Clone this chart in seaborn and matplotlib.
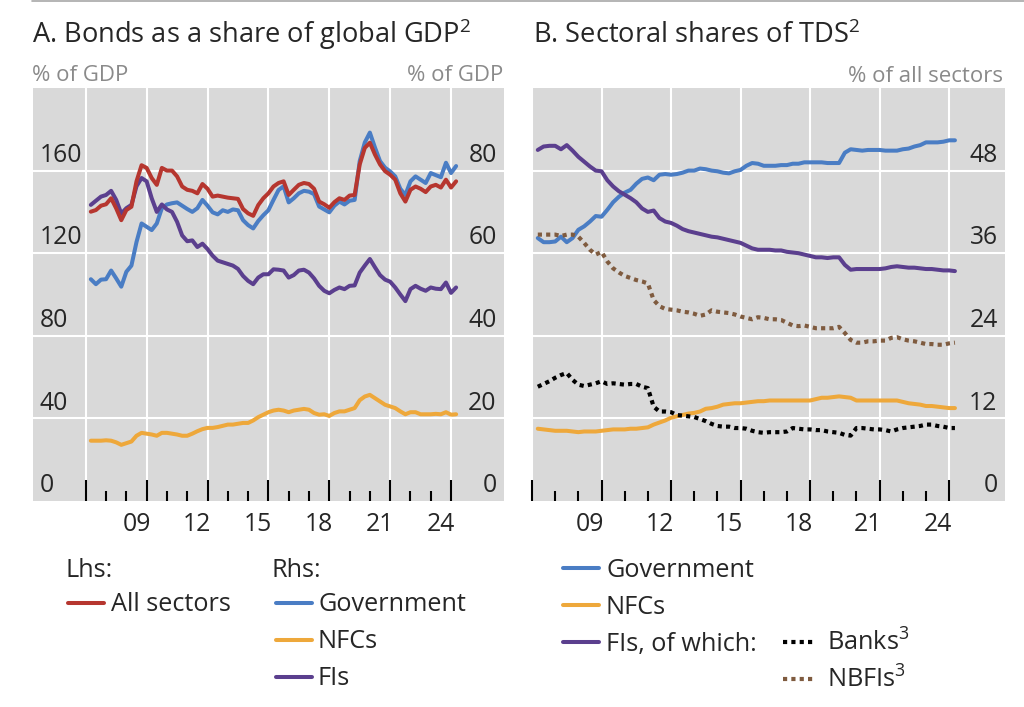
import matplotlib
matplotlib.use("Agg")
import matplotlib.pyplot as plt
from matplotlib.lines import Line2D
import pandas as pd
import seaborn as sns

# quarterly observations, 2007Q1 to 2025Q1, plotted at quarter end
quarters = pd.period_range("2007Q1", "2025Q1", freq="Q")
dates = quarters.year + quarters.quarter / 4

# Panel A: bonds as % of global GDP
all_sectors = [140.1, 140.9, 143, 143.7, 146.6, 141.7, 136, 140.9, 142.5, 154.8,
               162.6, 161.3, 156.4, 153.1, 161.3, 160, 160, 157.2, 152.3, 150.7,
               150.2, 149, 153.5, 151.2, 147.4, 147.9, 147.4, 146.9, 146.6, 146.3,
               141.4, 139.3, 138.1, 143.3, 146.6, 149, 152.3, 154, 154.8, 148.2,
               150.7, 153.1, 154, 153.5, 151.2, 145, 143.7, 142, 144.7, 146.6,
               145.8, 147.9, 148.2, 163, 171, 173.5, 167.8, 163, 159.7, 158,
               155.6, 149, 145, 150.7, 152.3, 151.2, 149.6, 152.3, 153.1, 151.8,
               155.6, 151.8, 154.8]
gov_a = [53.7, 52.5, 53.6, 53.7, 55.8, 53.9, 51.9, 55.5, 57, 62.7,
         67.2, 66.4, 65.6, 67.2, 70.9, 71.8, 72.1, 72.3, 71.5, 70.7,
         70, 70.9, 72.9, 71.5, 69.9, 69.4, 70.4, 70, 70.6, 70.4,
         68, 66.8, 66, 67.8, 69.2, 70.4, 72.9, 75.3, 76.2, 72.3,
         73.3, 74.5, 75.1, 74.9, 74.3, 71.3, 70.6, 69.9, 71.5, 72.5,
         71.8, 72.7, 72.9, 82.3, 86.8, 89.2, 85.6, 82.3, 80.7, 79.8,
         78.6, 75.6, 74.1, 77.4, 78.6, 77.8, 77, 79.4, 78.9, 78.4,
         81.9, 79.4, 81.1]
nfc_a = [14.6, 14.6, 14.6, 14.7, 14.6, 14.2, 13.6, 14, 14.4, 15.8,
         16.5, 16.3, 16.1, 15.8, 16.5, 16.5, 16.3, 16.1, 15.8, 15.8,
         16.3, 16.9, 17.4, 17.7, 17.7, 17.9, 18.2, 18.5, 18.5, 18.7,
         18.9, 18.9, 19.5, 20.3, 20.9, 21.5, 21.9, 22.1, 21.9, 21.5,
         21.9, 22.1, 22.3, 22.1, 21.3, 20.9, 21, 20.6, 21.3, 21.7,
         21.7, 22.1, 22.5, 24.4, 25.3, 25.7, 24.9, 24.1, 23.3, 22.9,
         22.5, 21.7, 21, 21.5, 21.5, 21, 21, 21, 21.1, 21,
         21.5, 20.9, 21]
fi_a = [71.7, 72.7, 73.7, 74.1, 75.1, 72.9, 69.6, 70.9, 71.7, 76.2,
        78.2, 77.4, 73.3, 70, 71.8, 70.6, 70, 67.6, 64.3, 62.9,
        63.1, 61.5, 62.3, 61, 59.4, 58.2, 57.8, 57.4, 57, 56.2,
        54.5, 53.3, 52.5, 54.1, 54.9, 54.9, 56.1, 56, 55.8, 54.1,
        54.7, 55.8, 56, 55.3, 53.9, 52.1, 50.9, 50.3, 51.1, 51.7,
        51.3, 52.1, 52.2, 55.3, 57, 58.6, 56.6, 54.7, 53.6, 53.1,
        51.7, 50, 48.4, 51.3, 52.1, 51.4, 50.9, 51.7, 51.4, 51.3,
        52.9, 50.4, 51.7]

# Panel B: sectoral shares of total debt securities, % of all sectors
gov_b = [38.2, 37.6, 37.6, 37.7, 38.4, 37.6, 38.2, 39.4, 39.9, 40.6,
         41.4, 41.3, 42.3, 43.4, 44.2, 44.8, 45.2, 46.1, 46.8, 47,
         46.6, 47.4, 47.5, 47.4, 47.5, 47.7, 48, 48, 48.3, 48.2,
         48, 47.9, 47.7, 47.6, 47.9, 48.1, 48.7, 49.1, 49, 48.7,
         48.7, 48.7, 48.8, 48.8, 49, 49, 49.2, 49.2, 49.2, 49.2,
         49.1, 49.1, 49.1, 50.6, 51.1, 51, 50.9, 51, 51, 51,
         50.9, 50.9, 50.9, 51.1, 51.2, 51.5, 51.7, 52.1, 52.1, 52.1,
         52.2, 52.4, 52.4]
nfc_b = [10.5, 10.4, 10.3, 10.2, 10.2, 10.2, 10.1, 10, 10.1, 10.1,
         10.1, 10.2, 10.3, 10.4, 10.4, 10.4, 10.5, 10.5, 10.6, 10.7,
         11.1, 11.4, 11.7, 12.1, 12.3, 12.5, 12.7, 12.8, 13, 13.4,
         13.5, 13.7, 14, 14.1, 14.2, 14.2, 14.3, 14.4, 14.5, 14.5,
         14.6, 14.6, 14.6, 14.6, 14.6, 14.6, 14.6, 14.6, 14.8, 15,
         15, 15.1, 15.2, 15.1, 15, 14.6, 14.6, 14.6, 14.6, 14.6,
         14.6, 14.6, 14.6, 14.4, 14.2, 14.1, 14, 13.8, 13.8, 13.7,
         13.6, 13.5, 13.5]
fi_b = [51, 51.5, 51.6, 51.6, 51.1, 51.7, 50.9, 50, 49.3, 48.6,
        48, 47.9, 46.6, 45.7, 45, 44.5, 44, 43.4, 42.5, 42,
        42.2, 41.1, 40.6, 40.4, 40, 39.5, 39.2, 39, 38.8, 38.6,
        38.4, 38.3, 38.1, 37.9, 37.7, 37.5, 37.1, 36.7, 36.5, 36.5,
        36.5, 36.4, 36.4, 36.2, 36.1, 36, 35.8, 35.6, 35.4, 35.4,
        35.3, 35.4, 35.4, 34.3, 33.6, 33.7, 33.7, 33.7, 33.7, 33.7,
        33.8, 34, 34.1, 34, 33.9, 33.9, 33.8, 33.7, 33.7, 33.6,
        33.5, 33.5, 33.4]
banks_b = [16.6, 17, 17.4, 17.9, 18.3, 18.6, 17.6, 16.9, 16.7, 16.9,
           17.1, 17.4, 17, 17.1, 17, 16.9, 17, 17, 16.6, 16.4,
           13.7, 13, 13, 12.9, 12.5, 12.4, 12.3, 12.2, 11.9, 11.6,
           11.2, 10.9, 10.8, 10.8, 10.6, 10.6, 10.5, 10.2, 10, 9.9,
           10, 10, 10, 10.1, 10.6, 10.5, 10.4, 10.4, 10.3, 10.3,
           10.1, 10, 9.9, 9.6, 9.5, 10.6, 10.6, 10.5, 10.4, 10.4,
           10.3, 10.1, 10.4, 10.6, 10.7, 10.8, 10.9, 11.1, 11.1, 10.9,
           10.8, 10.6, 10.6]
nbfi_b = [38.7, 38.7, 38.7, 38.7, 38.5, 38.7, 38.7, 38.4, 37.5, 36.5,
          35.8, 36.2, 34.8, 33.8, 33.2, 32.7, 32.4, 32.1, 31.9, 31.6,
          29.2, 28.3, 27.9, 27.8, 27.7, 27.5, 27.4, 27.2, 26.9, 27.1,
          27.7, 27.5, 27.4, 27.3, 27.1, 26.8, 26.6, 26.4, 26.7, 26.6,
          26.4, 26.4, 26.3, 25.9, 25.5, 25.4, 25.5, 25.3, 25.1, 25.1,
          25.1, 25.1, 25.3, 24.4, 23.4, 23, 23, 23.2, 23.2, 23.3,
          23.3, 23.7, 23.8, 23.5, 23.3, 23.2, 23, 22.8, 22.8, 22.7,
          22.7, 22.9, 23]

year_labels = ["09", "12", "15", "18", "21", "24"]
label_years = [2009, 2012, 2015, 2018, 2021, 2024]
major_years = [2007, 2010, 2013, 2016, 2019, 2022, 2025]
minor_years = list(range(2007, 2026))
lhs_ticks_a = [0, 40, 80, 120, 160]
rhs_ticks_a = [0, 20, 40, 60, 80]
rhs_ticks_b = [0, 12, 24, 36, 48]

RED = "#B6362F"
BLUE = "#4A7DC4"
YELLOW = "#EEA83B"
PURPLE = "#5B3F8E"
BROWN = "#7F5B3F"
BLACK = "#000000"
BG = "#D9D9D9"
UNIT_GRAY = "#8A8A8A"

sns.set_style("darkgrid", {"axes.facecolor": BG, "grid.color": "white"})
plt.rcParams["font.family"] = ["Open Sans", "DejaVu Sans"]
plt.rcParams["mathtext.fontset"] = "custom"
plt.rcParams["mathtext.rm"] = "Open Sans"

W, H = 1024, 707
LW = 2.9
DOT_LW = 3.0
TICK_FS = 17.8
LEG_FS = 18.2

fig = plt.figure(figsize=(W / 100, H / 100), dpi=100)


def fx(px):
    return px / W


def fy(py):
    return 1 - py / H


axA = fig.add_axes([fx(33), fy(501), 471 / W, 413 / H])
axB = fig.add_axes([fx(532), fy(501), 473 / W, 413 / H])

# Panel A: right-hand series on the base axes, all sectors on a twin (lhs scale)
dfA = pd.DataFrame({"date": dates, "Government": gov_a, "NFCs": nfc_a, "FIs": fi_a})
dfA = dfA.melt("date", var_name="series", value_name="value")
sns.lineplot(data=dfA, x="date", y="value", hue="series",
             hue_order=["Government", "NFCs", "FIs"],
             palette={"Government": BLUE, "NFCs": YELLOW, "FIs": PURPLE},
             ax=axA, legend=False)
axA_l = axA.twinx()
sns.lineplot(x=dates, y=all_sectors, color=RED, ax=axA_l)
axA_l.grid(False)

dfB = pd.DataFrame({"date": dates, "Government": gov_b, "NFCs": nfc_b, "FIs": fi_b,
                    "Banks": banks_b, "NBFIs": nbfi_b})
dfB = dfB.melt("date", var_name="series", value_name="value")
sns.lineplot(data=dfB, x="date", y="value", hue="series", style="series",
             hue_order=["Government", "NFCs", "FIs", "Banks", "NBFIs"],
             style_order=["Government", "NFCs", "FIs", "Banks", "NBFIs"],
             palette={"Government": BLUE, "NFCs": YELLOW, "FIs": PURPLE,
                      "Banks": BLACK, "NBFIs": BROWN},
             dashes={"Government": "", "NFCs": "", "FIs": "",
                     "Banks": (1, 1), "NBFIs": (1, 1)},
             ax=axB, legend=False)

for ax in (axA, axA_l):
    for line in ax.get_lines():
        line.set_linewidth(LW)
for i, line in enumerate(axB.get_lines()):
    line.set_linewidth(DOT_LW if i >= 3 else LW)
    if i >= 3:
        line.set_dash_capstyle("butt")

axA.set_xlim(2004.40, 2027.61)
axA.set_ylim(0, 100)
axA_l.set_ylim(0, 200)
axB.set_xlim(2007.03, 2027.41)
axB.set_ylim(0, 60)
axA.set_yticks(rhs_ticks_a[1:])
axB.set_yticks(rhs_ticks_b[1:])

for ax in (axA, axB, axA_l):
    ax.set(xlabel="", ylabel="")
    for s in ax.spines.values():
        s.set_visible(False)
    ax.tick_params(axis="y", which="both", length=0, left=False, right=False,
                   labelleft=False, labelright=False)

for ax in (axA, axB):
    ax.set_xticks(major_years)
    ax.set_xticks(minor_years, minor=True)
    ax.grid(True, which="major", color="white", lw=1.5)
    ax.grid(False, which="minor")
    ax.tick_params(axis="x", which="both", bottom=True, direction="in",
                   color="black", width=1.5, labelbottom=False)
    ax.tick_params(axis="x", which="major", length=15)
    ax.tick_params(axis="x", which="minor", length=7.3)
    for yr, lab in zip(label_years, year_labels):
        ax.annotate(lab, xy=(yr + 0.5, 0), xycoords=("data", "axes fraction"),
                    xytext=(0, -17), textcoords="offset points",
                    ha="center", va="center", fontsize=TICK_FS)


def ylabels(ax, values, side):
    x0, dx, ha = (0, 5, "left") if side == "left" else (1, -5.3, "right")
    for v in values:
        ax.annotate(str(v), xy=(x0, v), xycoords=("axes fraction", "data"),
                    xytext=(dx, 6.3), textcoords="offset points",
                    ha=ha, va="baseline", fontsize=TICK_FS, zorder=5)


ylabels(axA_l, lhs_ticks_a, "left")
ylabels(axA, rhs_ticks_a, "right")
ylabels(axB, rhs_ticks_b, "right")

# titles and units
fig.add_artist(Line2D([fx(32), 1], [fy(1.2), fy(1.2)], color="#A8A8A8", lw=1.2))
fig.text(fx(32), fy(43), "A. Bonds as a share of global GDP$^{2}$",
         fontsize=19.6, va="baseline")
fig.text(fx(533), fy(43), "B. Sectoral shares of TDS$^{2}$",
         fontsize=19.6, va="baseline")
fig.text(fx(32), fy(81), "% of GDP", fontsize=16, color=UNIT_GRAY, va="baseline")
fig.text(fx(503), fy(81), "% of GDP", fontsize=16, color=UNIT_GRAY,
         va="baseline", ha="right")
fig.text(fx(1003), fy(82), "% of all sectors", fontsize=16, color=UNIT_GRAY,
         va="baseline", ha="right")


def leg_line(x0, x1, y, color, dotted=False):
    ln = Line2D([fx(x0), fx(x1)], [fy(y), fy(y)], color=color,
                lw=DOT_LW if dotted else LW)
    if dotted:
        ln.set_dashes((1, 1))
        ln.set_dash_capstyle("butt")
    fig.add_artist(ln)


def leg_text(x, y, s):
    fig.text(fx(x), fy(y), s, fontsize=LEG_FS, va="baseline")


# legend, panel A
leg_text(65, 577, "Lhs:")
leg_line(68, 104, 603, RED)
leg_text(111, 611, "All sectors")
leg_text(272, 577, "Rhs:")
for i, (lab, col) in enumerate([("Government", BLUE), ("NFCs", YELLOW), ("FIs", PURPLE)]):
    leg_line(276, 312, 603 + 37 * i, col)
    leg_text(318, 611 + 37 * i, lab)

# legend, panel B
for i, (lab, col) in enumerate([("Government", BLUE), ("NFCs", YELLOW),
                                ("FIs, of which:", PURPLE)]):
    leg_line(563, 599, 568 + 37 * i, col)
    leg_text(606, 577 + 37 * i, lab)
leg_line(783, 816, 642, BLACK, dotted=True)
leg_text(827, 651, "Banks$^{3}$")
leg_line(783, 816, 679, BROWN, dotted=True)
leg_text(827, 688, "NBFIs$^{3}$")

fig.savefig("out.png", dpi=100)
